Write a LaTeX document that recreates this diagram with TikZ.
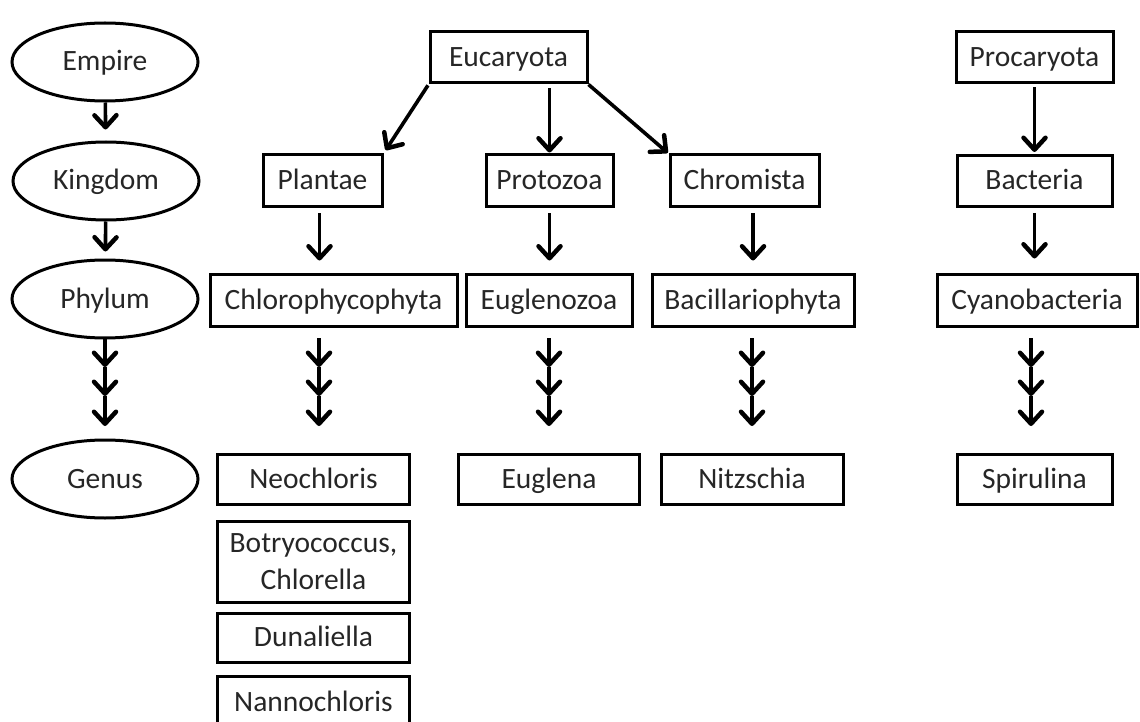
\documentclass[tikz,border=0pt]{standalone}
\usepackage{fontspec}
\setmainfont{Carlito}
\usetikzlibrary{shapes.geometric,arrows.meta}
\begin{document}
\begin{tikzpicture}[x=1pt,y=-1pt,
  txt/.style={font=\fontsize{29.5}{37}\selectfont, text=black!85},
  box/.style={draw, line width=3pt, inner sep=0pt, txt, align=center, text height=23pt, text depth=5pt},
  box2/.style={draw, line width=3pt, inner sep=0pt, txt, align=center},
  ell/.style={draw, ellipse, line width=3pt, inner sep=0pt, minimum width=186pt, minimum height=78pt, txt, text height=23pt, text depth=5pt},
  arr/.style={line width=3.6pt, -{Straight Barb[length=12pt,width=22pt,line width=4.5pt,round]}}]
\useasboundingbox (0,0) rectangle (1140,722);
% rank ellipses
\node[ell] (emp) at (105,62) {Empire};
\node[ell] (kin) at (106,181) {Kingdom};
\node[ell] (phy) at (105,299) {Phylum};
\node[ell] (gen) at (105,479) {Genus};
% empires
\node[box, minimum width=157pt, minimum height=51pt] (euc) at (508.5,57.5) {Eucaryota};
\node[box, minimum width=157pt, minimum height=51pt] (prc) at (1034.5,57.5) {Procaryota};
% kingdoms
\node[box, minimum width=119pt, minimum height=52pt] (pla) at (322.5,181) {Plantae};
\node[box, minimum width=127pt, minimum height=52pt] (pro) at (549.5,181) {Protozoa};
\node[box, minimum width=149pt, minimum height=52pt] (chr) at (744.5,181) {Chromista};
\node[box, minimum width=155pt, minimum height=51pt] (bac) at (1034.5,181) {Bacteria};
% phyla
\node[box, minimum width=247pt, minimum height=52pt] (chl) at (333.5,300) {Chlorophycophyta};
\node[box, minimum width=166pt, minimum height=52pt] (eug) at (549,300) {Euglenozoa};
\node[box, minimum width=202pt, minimum height=52pt] (bcl) at (753,300) {Bacillariophyta};
\node[box, minimum width=200pt, minimum height=52pt] (cya) at (1037,300) {Cyanobacteria};
% genera
\node[box, minimum width=192pt, minimum height=50pt] (neo) at (313.5,479) {Neochloris};
\node[box2, minimum width=192pt, minimum height=81pt] (bot) at (313.5,561.5) {Botryococcus,\\Chlorella};
\node[box, minimum width=192pt, minimum height=49pt] (dun) at (313.5,637.5) {Dunaliella};
\node[box, minimum width=192pt, minimum height=52pt] (nan) at (313.5,702) {Nannochloris};
\node[box, minimum width=181pt, minimum height=50pt] (egl) at (549,479) {Euglena};
\node[box, minimum width=182pt, minimum height=50pt] (nit) at (752,479) {Nitzschia};
\node[box, minimum width=155pt, minimum height=50pt] (spi) at (1034.5,479) {Spirulina};
% rank arrows
\draw[arr, shorten >=11pt] (emp) -- (kin);
\draw[arr, shorten >=7pt] (kin) -- (phy);
% empire arrows
\draw[arr, shorten <=1pt, shorten >=4pt] (euc.south west) -- (pla.north east);
\draw[arr, shorten <=4pt, shorten >=1pt] (pro.north |- euc.south) -- (pro.north);
\draw[arr, shorten >=1pt] (euc.south east) -- (chr.north west);
\draw[arr, shorten <=3pt, shorten >=2pt] (prc) -- (bac);
% kingdom to phylum arrows
\draw[arr, shorten <=5pt, shorten >=12pt] ([xshift=-3pt]pla.south) -- ([xshift=-3pt]pla.south |- chl.north);
\draw[arr, shorten <=5pt, shorten >=12pt] (pro.south) -- (pro.south |- eug.north);
\draw[arr, shorten <=5pt, shorten >=12pt] (bcl.north |- chr.south) -- (bcl.north);
\draw[arr, shorten <=5pt, shorten >=14pt] (bac) -- (bac |- cya.north);
% triple arrows phylum to genus
\foreach \c/\x in {r/105, c/319, e/549, b/752, y/1031} {
  \coordinate (\c0) at (\x,338);
  \coordinate (\c1) at (\x,367);
  \coordinate (\c2) at (\x,396);
  \coordinate (\c3) at (\x,426);
  \draw[arr] (\c0) -- (\c1);
  \draw[arr] (\c1) -- (\c2);
  \draw[arr] (\c2) -- (\c3);
}
\end{tikzpicture}
\end{document}
